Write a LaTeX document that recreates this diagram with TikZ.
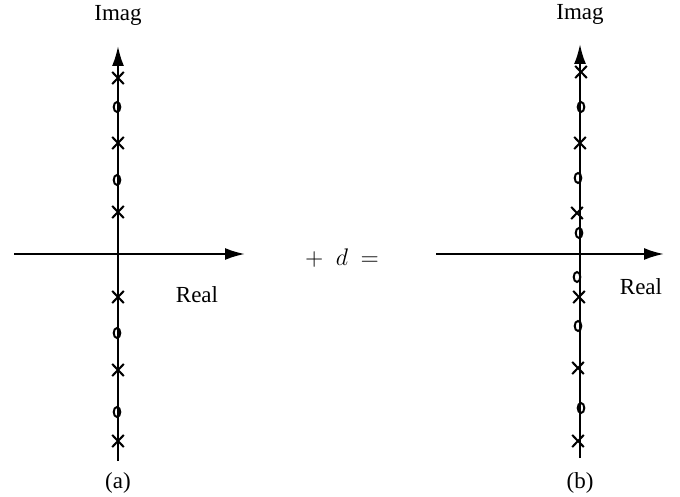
\documentclass[tikz,border=0pt]{standalone}
\usepackage{fontspec}
\setmainfont{Liberation Serif}
\usetikzlibrary{arrows.meta,shapes.misc,shapes.geometric}
\tikzset{
  axis/.style={line width=1.1pt,-{Latex[length=10pt,width=6pt]}},
  pole/.style={cross out,draw,line width=1pt,minimum width=4.8pt,minimum height=5pt,inner sep=0pt},
  zero/.style={ellipse,draw,line width=1pt,minimum width=3.3pt,minimum height=5pt,inner sep=0pt},
  lbl/.style={font=\fontsize{11.5}{13}\selectfont}
}
\begin{document}
\begin{tikzpicture}[x=0.5pt,y=-0.5pt]
    \useasboundingbox (0,0) rectangle (680,497);
    % (a)
    \coordinate (aL) at (14,254);
    \coordinate (aR) at (245,254);
    \coordinate (aB) at (118,461);
    \coordinate (aT) at (118,46);
    \draw[axis] (aL) -- (aR);
    \draw[axis] (aB) -- (aT);
    \foreach \y [count=\i] in {78,143,212,297,370,441}
        \node[pole] (pa\i) at (118,\y) {};
    \foreach \y [count=\i] in {107,180,333,412}
        \node[zero] (za\i) at (117,\y) {};
    \node[lbl] (imaga) at (118,15) {Imag};
    \node[lbl] (reala) at (197,295) {Real};
    \node[lbl] (capa) at (118,483) {(a)};
    % + d =
    \node[font=\fontsize{12.5}{14}\selectfont] (plusd) at (342,258) {$+\hspace{0.5em}d\hspace{0.5em}{=}$};
    % (b)
    \coordinate (bL) at (436,254);
    \coordinate (bR) at (664,254);
    \coordinate (bB) at (580,458);
    \coordinate (bT) at (580,44);
    \draw[axis] (bL) -- (bR);
    \draw[axis] (bB) -- (bT);
    \foreach \x/\y [count=\i] in {581/72,580/143,577/213,579/297,578/368,578/441}
        \node[pole] (pb\i) at (\x,\y) {};
    \foreach \x/\y [count=\i] in {581/107,578/178,579/233,577/277,578/326,581/408}
        \node[zero] (zb\i) at (\x,\y) {};
    \node[lbl] (imagb) at (580,14) {Imag};
    \node[lbl] (realb) at (641,287) {Real};
    \node[lbl] (capb) at (580,483) {(b)};
\end{tikzpicture}
\end{document}
